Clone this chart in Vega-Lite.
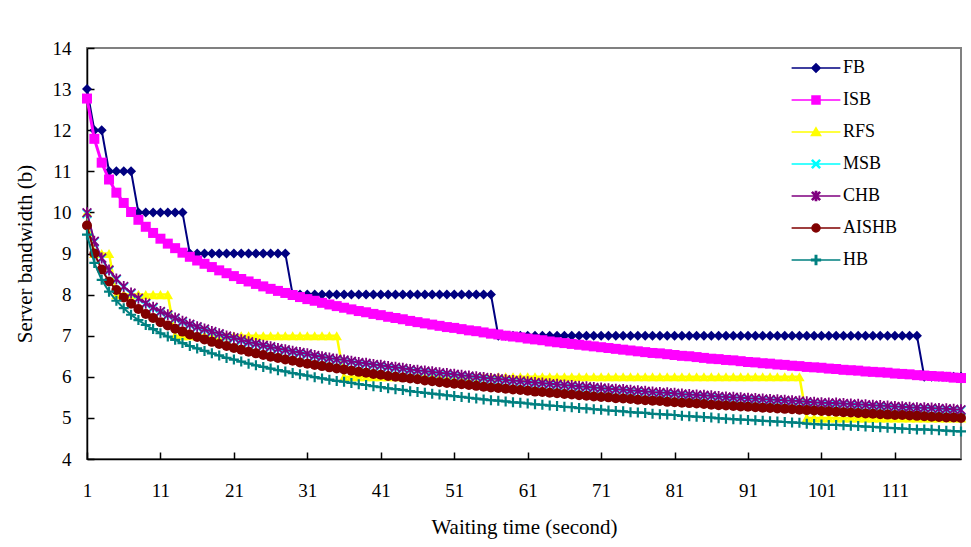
{
"$schema": "https://vega.github.io/schema/vega-lite/v6.json",
"width": 874, "height": 411,
"autosize": {"type": "none"},
"padding": {"left": 87, "top": 48, "right": 10, "bottom": 88},
"background": "white",
"config": {"view": {"stroke": "#808080", "strokeWidth": 2}, "font": "Liberation Serif"},
"data": {"values": [
{"x":1,"FB":13,"ISB":12.77,"RFS":10,"MSB":9.97,"CHB":9.99,"AISHB":9.68,"HB":9.46},
{"x":2,"FB":12,"ISB":11.79,"RFS":9,"MSB":9.28,"CHB":9.30,"AISHB":9.00,"HB":8.77},
{"x":3,"FB":12,"ISB":11.21,"RFS":9,"MSB":8.87,"CHB":8.89,"AISHB":8.61,"HB":8.36},
{"x":4,"FB":11,"ISB":10.80,"RFS":9,"MSB":8.58,"CHB":8.60,"AISHB":8.32,"HB":8.07},
{"x":5,"FB":11,"ISB":10.48,"RFS":8,"MSB":8.36,"CHB":8.38,"AISHB":8.11,"HB":7.85},
{"x":6,"FB":11,"ISB":10.23,"RFS":8,"MSB":8.18,"CHB":8.20,"AISHB":7.93,"HB":7.67},
{"x":7,"FB":11,"ISB":10.01,"RFS":8,"MSB":8.02,"CHB":8.04,"AISHB":7.78,"HB":7.51},
{"x":8,"FB":10,"ISB":9.82,"RFS":8,"MSB":7.89,"CHB":7.91,"AISHB":7.65,"HB":7.38},
{"x":9,"FB":10,"ISB":9.65,"RFS":8,"MSB":7.77,"CHB":7.79,"AISHB":7.53,"HB":7.26},
{"x":10,"FB":10,"ISB":9.50,"RFS":8,"MSB":7.67,"CHB":7.69,"AISHB":7.43,"HB":7.16},
{"x":11,"FB":10,"ISB":9.36,"RFS":8,"MSB":7.57,"CHB":7.59,"AISHB":7.33,"HB":7.06},
{"x":12,"FB":10,"ISB":9.24,"RFS":8,"MSB":7.49,"CHB":7.51,"AISHB":7.25,"HB":6.98},
{"x":13,"FB":10,"ISB":9.13,"RFS":7,"MSB":7.41,"CHB":7.43,"AISHB":7.17,"HB":6.90},
{"x":14,"FB":10,"ISB":9.02,"RFS":7,"MSB":7.33,"CHB":7.35,"AISHB":7.10,"HB":6.82},
{"x":15,"FB":9,"ISB":8.92,"RFS":7,"MSB":7.26,"CHB":7.28,"AISHB":7.03,"HB":6.75},
{"x":16,"FB":9,"ISB":8.83,"RFS":7,"MSB":7.20,"CHB":7.22,"AISHB":6.97,"HB":6.69},
{"x":17,"FB":9,"ISB":8.75,"RFS":7,"MSB":7.14,"CHB":7.16,"AISHB":6.91,"HB":6.63},
{"x":18,"FB":9,"ISB":8.67,"RFS":7,"MSB":7.08,"CHB":7.10,"AISHB":6.85,"HB":6.57},
{"x":19,"FB":9,"ISB":8.59,"RFS":7,"MSB":7.03,"CHB":7.05,"AISHB":6.80,"HB":6.52},
{"x":20,"FB":9,"ISB":8.52,"RFS":7,"MSB":6.97,"CHB":6.99,"AISHB":6.75,"HB":6.46},
{"x":21,"FB":9,"ISB":8.45,"RFS":7,"MSB":6.93,"CHB":6.95,"AISHB":6.70,"HB":6.42},
{"x":22,"FB":9,"ISB":8.38,"RFS":7,"MSB":6.88,"CHB":6.90,"AISHB":6.66,"HB":6.37},
{"x":23,"FB":9,"ISB":8.32,"RFS":7,"MSB":6.83,"CHB":6.85,"AISHB":6.61,"HB":6.32},
{"x":24,"FB":9,"ISB":8.26,"RFS":7,"MSB":6.79,"CHB":6.81,"AISHB":6.57,"HB":6.28},
{"x":25,"FB":9,"ISB":8.20,"RFS":7,"MSB":6.75,"CHB":6.77,"AISHB":6.53,"HB":6.24},
{"x":26,"FB":9,"ISB":8.14,"RFS":7,"MSB":6.71,"CHB":6.73,"AISHB":6.49,"HB":6.20},
{"x":27,"FB":9,"ISB":8.09,"RFS":7,"MSB":6.67,"CHB":6.69,"AISHB":6.46,"HB":6.16},
{"x":28,"FB":9,"ISB":8.04,"RFS":7,"MSB":6.64,"CHB":6.66,"AISHB":6.42,"HB":6.13},
{"x":29,"FB":8,"ISB":7.99,"RFS":7,"MSB":6.60,"CHB":6.62,"AISHB":6.39,"HB":6.09},
{"x":30,"FB":8,"ISB":7.94,"RFS":7,"MSB":6.57,"CHB":6.59,"AISHB":6.35,"HB":6.06},
{"x":31,"FB":8,"ISB":7.89,"RFS":7,"MSB":6.54,"CHB":6.56,"AISHB":6.32,"HB":6.03},
{"x":32,"FB":8,"ISB":7.85,"RFS":7,"MSB":6.50,"CHB":6.52,"AISHB":6.29,"HB":5.99},
{"x":33,"FB":8,"ISB":7.80,"RFS":7,"MSB":6.47,"CHB":6.49,"AISHB":6.26,"HB":5.96},
{"x":34,"FB":8,"ISB":7.76,"RFS":7,"MSB":6.44,"CHB":6.46,"AISHB":6.23,"HB":5.93},
{"x":35,"FB":8,"ISB":7.72,"RFS":7,"MSB":6.41,"CHB":6.43,"AISHB":6.20,"HB":5.90},
{"x":36,"FB":8,"ISB":7.68,"RFS":6,"MSB":6.39,"CHB":6.41,"AISHB":6.18,"HB":5.88},
{"x":37,"FB":8,"ISB":7.64,"RFS":6,"MSB":6.36,"CHB":6.38,"AISHB":6.15,"HB":5.85},
{"x":38,"FB":8,"ISB":7.60,"RFS":6,"MSB":6.33,"CHB":6.35,"AISHB":6.12,"HB":5.82},
{"x":39,"FB":8,"ISB":7.57,"RFS":6,"MSB":6.31,"CHB":6.33,"AISHB":6.10,"HB":5.80},
{"x":40,"FB":8,"ISB":7.53,"RFS":6,"MSB":6.28,"CHB":6.30,"AISHB":6.07,"HB":5.77},
{"x":41,"FB":8,"ISB":7.50,"RFS":6,"MSB":6.26,"CHB":6.28,"AISHB":6.05,"HB":5.75},
{"x":42,"FB":8,"ISB":7.46,"RFS":6,"MSB":6.23,"CHB":6.25,"AISHB":6.02,"HB":5.72},
{"x":43,"FB":8,"ISB":7.43,"RFS":6,"MSB":6.21,"CHB":6.23,"AISHB":6.00,"HB":5.70},
{"x":44,"FB":8,"ISB":7.40,"RFS":6,"MSB":6.19,"CHB":6.21,"AISHB":5.98,"HB":5.68},
{"x":45,"FB":8,"ISB":7.36,"RFS":6,"MSB":6.16,"CHB":6.18,"AISHB":5.96,"HB":5.65},
{"x":46,"FB":8,"ISB":7.33,"RFS":6,"MSB":6.14,"CHB":6.16,"AISHB":5.94,"HB":5.63},
{"x":47,"FB":8,"ISB":7.30,"RFS":6,"MSB":6.12,"CHB":6.14,"AISHB":5.91,"HB":5.61},
{"x":48,"FB":8,"ISB":7.27,"RFS":6,"MSB":6.10,"CHB":6.12,"AISHB":5.89,"HB":5.59},
{"x":49,"FB":8,"ISB":7.24,"RFS":6,"MSB":6.08,"CHB":6.10,"AISHB":5.87,"HB":5.57},
{"x":50,"FB":8,"ISB":7.21,"RFS":6,"MSB":6.06,"CHB":6.08,"AISHB":5.85,"HB":5.55},
{"x":51,"FB":8,"ISB":7.19,"RFS":6,"MSB":6.04,"CHB":6.06,"AISHB":5.83,"HB":5.53},
{"x":52,"FB":8,"ISB":7.16,"RFS":6,"MSB":6.02,"CHB":6.04,"AISHB":5.82,"HB":5.51},
{"x":53,"FB":8,"ISB":7.13,"RFS":6,"MSB":6.00,"CHB":6.02,"AISHB":5.80,"HB":5.49},
{"x":54,"FB":8,"ISB":7.11,"RFS":6,"MSB":5.98,"CHB":6.00,"AISHB":5.78,"HB":5.47},
{"x":55,"FB":8,"ISB":7.08,"RFS":6,"MSB":5.96,"CHB":5.98,"AISHB":5.76,"HB":5.45},
{"x":56,"FB":8,"ISB":7.05,"RFS":6,"MSB":5.94,"CHB":5.96,"AISHB":5.74,"HB":5.43},
{"x":57,"FB":7,"ISB":7.03,"RFS":6,"MSB":5.93,"CHB":5.95,"AISHB":5.73,"HB":5.42},
{"x":58,"FB":7,"ISB":7.00,"RFS":6,"MSB":5.91,"CHB":5.93,"AISHB":5.71,"HB":5.40},
{"x":59,"FB":7,"ISB":6.98,"RFS":6,"MSB":5.89,"CHB":5.91,"AISHB":5.69,"HB":5.38},
{"x":60,"FB":7,"ISB":6.96,"RFS":6,"MSB":5.88,"CHB":5.90,"AISHB":5.68,"HB":5.37},
{"x":61,"FB":7,"ISB":6.93,"RFS":6,"MSB":5.86,"CHB":5.88,"AISHB":5.66,"HB":5.35},
{"x":62,"FB":7,"ISB":6.91,"RFS":6,"MSB":5.84,"CHB":5.86,"AISHB":5.64,"HB":5.33},
{"x":63,"FB":7,"ISB":6.89,"RFS":6,"MSB":5.83,"CHB":5.85,"AISHB":5.63,"HB":5.32},
{"x":64,"FB":7,"ISB":6.86,"RFS":6,"MSB":5.81,"CHB":5.83,"AISHB":5.61,"HB":5.30},
{"x":65,"FB":7,"ISB":6.84,"RFS":6,"MSB":5.80,"CHB":5.82,"AISHB":5.60,"HB":5.29},
{"x":66,"FB":7,"ISB":6.82,"RFS":6,"MSB":5.78,"CHB":5.80,"AISHB":5.58,"HB":5.27},
{"x":67,"FB":7,"ISB":6.80,"RFS":6,"MSB":5.77,"CHB":5.79,"AISHB":5.57,"HB":5.26},
{"x":68,"FB":7,"ISB":6.78,"RFS":6,"MSB":5.75,"CHB":5.77,"AISHB":5.55,"HB":5.24},
{"x":69,"FB":7,"ISB":6.76,"RFS":6,"MSB":5.74,"CHB":5.76,"AISHB":5.54,"HB":5.23},
{"x":70,"FB":7,"ISB":6.74,"RFS":6,"MSB":5.72,"CHB":5.74,"AISHB":5.52,"HB":5.21},
{"x":71,"FB":7,"ISB":6.72,"RFS":6,"MSB":5.71,"CHB":5.73,"AISHB":5.51,"HB":5.20},
{"x":72,"FB":7,"ISB":6.70,"RFS":6,"MSB":5.69,"CHB":5.71,"AISHB":5.50,"HB":5.18},
{"x":73,"FB":7,"ISB":6.68,"RFS":6,"MSB":5.68,"CHB":5.70,"AISHB":5.48,"HB":5.17},
{"x":74,"FB":7,"ISB":6.66,"RFS":6,"MSB":5.67,"CHB":5.69,"AISHB":5.47,"HB":5.16},
{"x":75,"FB":7,"ISB":6.64,"RFS":6,"MSB":5.65,"CHB":5.67,"AISHB":5.46,"HB":5.14},
{"x":76,"FB":7,"ISB":6.62,"RFS":6,"MSB":5.64,"CHB":5.66,"AISHB":5.44,"HB":5.13},
{"x":77,"FB":7,"ISB":6.60,"RFS":6,"MSB":5.63,"CHB":5.65,"AISHB":5.43,"HB":5.12},
{"x":78,"FB":7,"ISB":6.58,"RFS":6,"MSB":5.61,"CHB":5.63,"AISHB":5.42,"HB":5.10},
{"x":79,"FB":7,"ISB":6.57,"RFS":6,"MSB":5.60,"CHB":5.62,"AISHB":5.41,"HB":5.09},
{"x":80,"FB":7,"ISB":6.55,"RFS":6,"MSB":5.59,"CHB":5.61,"AISHB":5.39,"HB":5.08},
{"x":81,"FB":7,"ISB":6.53,"RFS":6,"MSB":5.58,"CHB":5.60,"AISHB":5.38,"HB":5.07},
{"x":82,"FB":7,"ISB":6.51,"RFS":6,"MSB":5.56,"CHB":5.58,"AISHB":5.37,"HB":5.05},
{"x":83,"FB":7,"ISB":6.50,"RFS":6,"MSB":5.55,"CHB":5.57,"AISHB":5.36,"HB":5.04},
{"x":84,"FB":7,"ISB":6.48,"RFS":6,"MSB":5.54,"CHB":5.56,"AISHB":5.35,"HB":5.03},
{"x":85,"FB":7,"ISB":6.46,"RFS":6,"MSB":5.53,"CHB":5.55,"AISHB":5.34,"HB":5.02},
{"x":86,"FB":7,"ISB":6.44,"RFS":6,"MSB":5.52,"CHB":5.54,"AISHB":5.32,"HB":5.01},
{"x":87,"FB":7,"ISB":6.43,"RFS":6,"MSB":5.50,"CHB":5.52,"AISHB":5.31,"HB":4.99},
{"x":88,"FB":7,"ISB":6.41,"RFS":6,"MSB":5.49,"CHB":5.51,"AISHB":5.30,"HB":4.98},
{"x":89,"FB":7,"ISB":6.40,"RFS":6,"MSB":5.48,"CHB":5.50,"AISHB":5.29,"HB":4.97},
{"x":90,"FB":7,"ISB":6.38,"RFS":6,"MSB":5.47,"CHB":5.49,"AISHB":5.28,"HB":4.96},
{"x":91,"FB":7,"ISB":6.36,"RFS":6,"MSB":5.46,"CHB":5.48,"AISHB":5.27,"HB":4.95},
{"x":92,"FB":7,"ISB":6.35,"RFS":6,"MSB":5.45,"CHB":5.47,"AISHB":5.26,"HB":4.94},
{"x":93,"FB":7,"ISB":6.33,"RFS":6,"MSB":5.44,"CHB":5.46,"AISHB":5.25,"HB":4.93},
{"x":94,"FB":7,"ISB":6.32,"RFS":6,"MSB":5.43,"CHB":5.45,"AISHB":5.24,"HB":4.92},
{"x":95,"FB":7,"ISB":6.30,"RFS":6,"MSB":5.42,"CHB":5.44,"AISHB":5.23,"HB":4.91},
{"x":96,"FB":7,"ISB":6.29,"RFS":6,"MSB":5.41,"CHB":5.43,"AISHB":5.22,"HB":4.90},
{"x":97,"FB":7,"ISB":6.27,"RFS":6,"MSB":5.40,"CHB":5.42,"AISHB":5.21,"HB":4.89},
{"x":98,"FB":7,"ISB":6.26,"RFS":6,"MSB":5.39,"CHB":5.41,"AISHB":5.20,"HB":4.88},
{"x":99,"FB":7,"ISB":6.24,"RFS":5,"MSB":5.37,"CHB":5.39,"AISHB":5.19,"HB":4.86},
{"x":100,"FB":7,"ISB":6.23,"RFS":5,"MSB":5.36,"CHB":5.38,"AISHB":5.18,"HB":4.85},
{"x":101,"FB":7,"ISB":6.22,"RFS":5,"MSB":5.35,"CHB":5.37,"AISHB":5.17,"HB":4.84},
{"x":102,"FB":7,"ISB":6.20,"RFS":5,"MSB":5.34,"CHB":5.36,"AISHB":5.16,"HB":4.83},
{"x":103,"FB":7,"ISB":6.19,"RFS":5,"MSB":5.34,"CHB":5.36,"AISHB":5.15,"HB":4.83},
{"x":104,"FB":7,"ISB":6.17,"RFS":5,"MSB":5.33,"CHB":5.35,"AISHB":5.14,"HB":4.82},
{"x":105,"FB":7,"ISB":6.16,"RFS":5,"MSB":5.32,"CHB":5.34,"AISHB":5.13,"HB":4.81},
{"x":106,"FB":7,"ISB":6.15,"RFS":5,"MSB":5.31,"CHB":5.33,"AISHB":5.12,"HB":4.80},
{"x":107,"FB":7,"ISB":6.13,"RFS":5,"MSB":5.30,"CHB":5.32,"AISHB":5.11,"HB":4.79},
{"x":108,"FB":7,"ISB":6.12,"RFS":5,"MSB":5.29,"CHB":5.31,"AISHB":5.10,"HB":4.78},
{"x":109,"FB":7,"ISB":6.11,"RFS":5,"MSB":5.28,"CHB":5.30,"AISHB":5.09,"HB":4.77},
{"x":110,"FB":7,"ISB":6.10,"RFS":5,"MSB":5.27,"CHB":5.29,"AISHB":5.08,"HB":4.76},
{"x":111,"FB":7,"ISB":6.08,"RFS":5,"MSB":5.26,"CHB":5.28,"AISHB":5.07,"HB":4.75},
{"x":112,"FB":7,"ISB":6.07,"RFS":5,"MSB":5.25,"CHB":5.27,"AISHB":5.07,"HB":4.74},
{"x":113,"FB":7,"ISB":6.06,"RFS":5,"MSB":5.24,"CHB":5.26,"AISHB":5.06,"HB":4.73},
{"x":114,"FB":7,"ISB":6.04,"RFS":5,"MSB":5.23,"CHB":5.25,"AISHB":5.05,"HB":4.72},
{"x":115,"FB":6,"ISB":6.03,"RFS":5,"MSB":5.23,"CHB":5.25,"AISHB":5.04,"HB":4.72},
{"x":116,"FB":6,"ISB":6.02,"RFS":5,"MSB":5.22,"CHB":5.24,"AISHB":5.03,"HB":4.71},
{"x":117,"FB":6,"ISB":6.01,"RFS":5,"MSB":5.21,"CHB":5.23,"AISHB":5.02,"HB":4.70},
{"x":118,"FB":6,"ISB":6.00,"RFS":5,"MSB":5.20,"CHB":5.22,"AISHB":5.01,"HB":4.69},
{"x":119,"FB":6,"ISB":5.98,"RFS":5,"MSB":5.19,"CHB":5.21,"AISHB":5.01,"HB":4.68},
{"x":120,"FB":6,"ISB":5.97,"RFS":5,"MSB":5.18,"CHB":5.20,"AISHB":5.00,"HB":4.67}
]},
"encoding": {
  "x": {"field": "x", "type": "quantitative",
        "scale": {"domain": [1, 120], "nice": false, "zero": false},
        "axis": {"values": [1, 11, 21, 31, 41, 51, 61, 71, 81, 91, 101, 111], "format": "d",
                 "title": "Waiting time (second)", "grid": false,
                 "domainColor": "#000000", "domainWidth": 1.5, "tickColor": "#000000", "tickWidth": 1.5, "tickSize": -7,
                 "labelFontSize": 19, "labelColor": "#000000", "labelPadding": 29, "labelFlush": false, "labelOverlap": false,
                 "titleFontSize": 21, "titleFontWeight": "normal", "titleColor": "#000000", "titlePadding": 16}},
  "y": {"field": "value", "type": "quantitative",
        "scale": {"domain": [4, 14], "nice": false, "zero": false},
        "axis": {"values": [4, 5, 6, 7, 8, 9, 10, 11, 12, 13, 14], "format": "d",
                 "title": "Server bandwidth (b)", "grid": false,
                 "domainColor": "#000000", "domainWidth": 1.5, "tickColor": "#000000", "tickWidth": 1.5, "tickSize": -7,
                 "labelFontSize": 19, "labelColor": "#000000", "labelPadding": 23, "labelOverlap": false,
                 "titleFontSize": 21, "titleFontWeight": "normal", "titleColor": "#000000", "titlePadding": 17}},
  "color": {"field": "series", "type": "nominal",
            "scale": {"domain": ["FB", "ISB", "RFS", "MSB", "CHB", "AISHB", "HB"],
                      "range": ["#000080", "#FF00FF", "#FFFF00", "#00FFFF", "#800080", "#800000", "#008080"]},
            "legend": {"orient": "none", "legendX": 720, "legendY": 11, "title": null, "padding": 0,
                       "symbolSize": 64, "labelOffset": 18, "rowPadding": 14,
                       "labelFontSize": 18, "labelColor": "#000000", "labelLimit": 0,
                       "encoding": {"symbols": {
                         "shape": {"value": {"expr": "datum.value==='FB'?'M-6.1,0H6.1M0,-1.05L1.05,0L0,1.05L-1.05,0Z':datum.value==='ISB'?'M-6.1,0H6.1M-1,-1H1V1H-1Z':datum.value==='RFS'?'M-6.1,0H6.1M0,-1.05L1.15,0.9H-1.15Z':datum.value==='MSB'?'M-6.1,0H6.1M0,-0.2L0.8,-1L1,-0.8L0.2,0L1,0.8L0.8,1L0,0.2L-0.8,1L-1,0.8L-0.2,0L-1,-0.8L-0.8,-1Z':datum.value==='CHB'?'M-6.1,0H6.1M0,-0.2L0.8,-1L1,-0.8L0.2,0L1,0.8L0.8,1L0,0.2L-0.8,1L-1,0.8L-0.2,0L-1,-0.8L-0.8,-1ZM-0.15,-1.15H0.15V1.15H-0.15Z':datum.value==='AISHB'?'M-6.1,0H6.1M1,0A1,1,0,1,1,-1,0A1,1,0,1,1,1,0Z':'M-6.1,0H6.1M-0.18,-1.1H0.18V-0.18H1.1V0.18H0.18V1.1H-0.18V0.18H-1.1V-0.18H-0.18Z'"}},
                         "fill": {"value": {"expr": "scale('color', datum.value)"}},
                         "stroke": {"value": {"expr": "scale('color', datum.value)"}},
                         "strokeWidth": {"value": 1.5},
                         "opacity": {"value": 1}
                       }}}}
},
"layer": [
  {"transform": [{"fold": ["FB"], "as": ["series", "value"]}],
   "layer": [
     {"mark": {"type": "line", "strokeWidth": 2}},
     {"mark": {"type": "point", "filled": true, "size": 100, "opacity": 1, "shape": "diamond"}}
   ]},
  {"transform": [{"fold": ["ISB"], "as": ["series", "value"]}],
   "layer": [
     {"mark": {"type": "line", "strokeWidth": 3}},
     {"mark": {"type": "point", "filled": true, "size": 100, "opacity": 1, "shape": "square"}}
   ]},
  {"transform": [{"fold": ["RFS"], "as": ["series", "value"]}],
   "layer": [
     {"mark": {"type": "line", "strokeWidth": 2.5}},
     {"mark": {"type": "point", "filled": true, "size": 110, "opacity": 1, "shape": "triangle-up"}}
   ]},
  {"transform": [{"fold": ["MSB"], "as": ["series", "value"]}],
   "layer": [
     {"mark": {"type": "line", "strokeWidth": 2}},
     {"mark": {"type": "point", "filled": true, "size": 100, "opacity": 1, "shape": "M0,-0.25L0.75,-1L1,-0.75L0.25,0L1,0.75L0.75,1L0,0.25L-0.75,1L-1,0.75L-0.25,0L-1,-0.75L-0.75,-1Z"}}
   ]},
  {"transform": [{"fold": ["CHB"], "as": ["series", "value"]}],
   "layer": [
     {"mark": {"type": "line", "strokeWidth": 2}},
     {"mark": {"type": "point", "filled": true, "size": 100, "opacity": 1, "shape": "M0,-0.25L0.75,-1L1,-0.75L0.25,0L1,0.75L0.75,1L0,0.25L-0.75,1L-1,0.75L-0.25,0L-1,-0.75L-0.75,-1ZM-0.18,-1.1H0.18V1.1H-0.18Z"}}
   ]},
  {"transform": [{"fold": ["AISHB"], "as": ["series", "value"]}],
   "layer": [
     {"mark": {"type": "line", "strokeWidth": 2}},
     {"mark": {"type": "point", "filled": true, "size": 100, "opacity": 1, "shape": "circle"}}
   ]},
  {"transform": [{"fold": ["HB"], "as": ["series", "value"]}],
   "layer": [
     {"mark": {"type": "line", "strokeWidth": 2}},
     {"mark": {"type": "point", "filled": true, "size": 100, "opacity": 1, "shape": "M-0.22,-1H0.22V-0.22H1V0.22H0.22V1H-0.22V0.22H-1V-0.22H-0.22Z"}}
   ]}
]
}
